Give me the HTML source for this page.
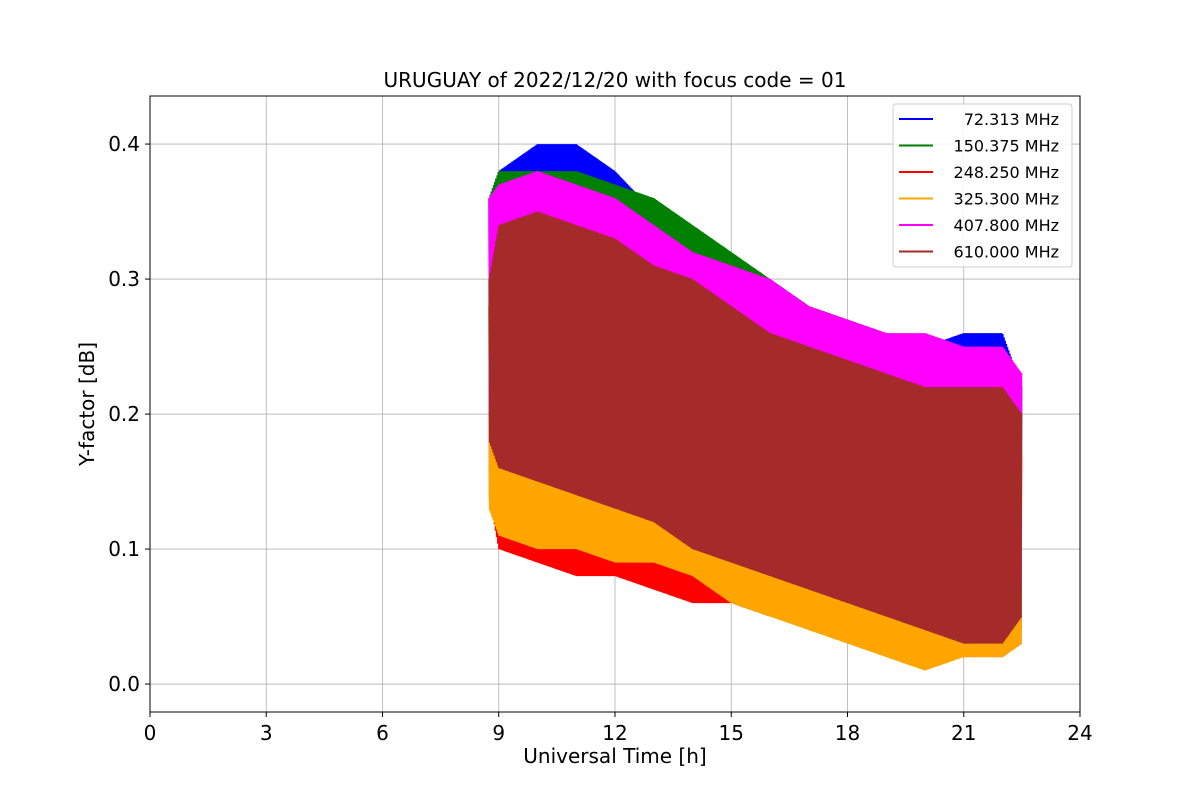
<!DOCTYPE html>
<html><head><meta charset="utf-8"><style>
body{margin:0;background:#fff;font-family:"Liberation Sans","DejaVu Sans",sans-serif}
svg text{font-family:"DejaVu Sans","Liberation Sans",sans-serif}
</style></head><body>
<svg id="c" width="1200" height="800" xmlns="http://www.w3.org/2000/svg"></svg>
<script>
const times=[8.75,9,10,11,12,13,14,15,16,17,18,19,20,21,22,22.5];
const seriesNames=["72.313 MHz","150.375 MHz","248.250 MHz","325.300 MHz","407.800 MHz","610.000 MHz"];
const seriesColors=["blue","green","red","orange","magenta","#a52a2a"];
const hiBlue=[0.36,0.38,0.40,0.40,0.38,0.35,0.33,0.31,0.30,0.28,0.26,0.25,0.25,0.26,0.26,0.22];
const loBlue=[0.18,0.16,0.15,0.14,0.13,0.12,0.10,0.09,0.08,0.07,0.06,0.05,0.04,0.03,0.03,0.05];
const hiGreen=[0.36,0.38,0.38,0.38,0.37,0.36,0.34,0.32,0.30,0.28,0.27,0.26,0.25,0.24,0.24,0.22];
const loGreen=[0.18,0.16,0.15,0.14,0.13,0.12,0.10,0.09,0.08,0.07,0.06,0.05,0.04,0.03,0.03,0.05];
const hiRed=[0.28,0.30,0.30,0.29,0.28,0.27,0.26,0.25,0.23,0.22,0.21,0.20,0.19,0.18,0.18,0.17];
const loRed=[0.14,0.10,0.09,0.08,0.08,0.07,0.06,0.06,0.05,0.05,0.04,0.03,0.02,0.02,0.02,0.03];
const hiOrange=[0.28,0.30,0.30,0.29,0.28,0.27,0.26,0.25,0.23,0.22,0.21,0.20,0.19,0.18,0.18,0.17];
const loOrange=[0.13,0.11,0.10,0.10,0.09,0.09,0.08,0.06,0.05,0.04,0.03,0.02,0.01,0.02,0.02,0.03];
const hiMagenta=[0.36,0.37,0.38,0.37,0.36,0.34,0.32,0.31,0.30,0.28,0.27,0.26,0.26,0.25,0.25,0.23];
const loMagenta=[0.20,0.18,0.17,0.16,0.15,0.14,0.12,0.11,0.10,0.09,0.08,0.07,0.06,0.05,0.05,0.07];
const hiBrown=[0.30,0.34,0.35,0.34,0.33,0.31,0.30,0.28,0.26,0.25,0.24,0.23,0.22,0.22,0.22,0.20];
const loBrown=[0.18,0.16,0.15,0.14,0.13,0.12,0.10,0.09,0.08,0.07,0.06,0.05,0.04,0.03,0.03,0.05];
const xTicks=[0,3,6,9,12,15,18,21,24];
const yTicks=[0.0,0.1,0.2,0.3,0.4];
const his=[hiBlue,hiGreen,hiRed,hiOrange,hiMagenta,hiBrown];
const los=[loBlue,loGreen,loRed,loOrange,loMagenta,loBrown];

const L=150,R=1080,T=96,B=712;
const X0=0,X1=24,Y0=-0.0207,Y1=0.4356;
const sx=v=>L+(v-X0)/(X1-X0)*(R-L);
const sy=v=>B-(v-Y0)/(Y1-Y0)*(B-T);
const NS="http://www.w3.org/2000/svg";
const svg=document.getElementById('c');
function mk(t,a,p){const e=document.createElementNS(NS,t);for(const k in a)e.setAttribute(k,a[k]);(p||svg).appendChild(e);return e;}
function interp(arr,t){for(let i=0;i<times.length-1;i++){if(t<=times[i+1]){const f=(t-times[i])/(times[i+1]-times[i]);return arr[i]+f*(arr[i+1]-arr[i]);}}return arr[arr.length-1];}

const grid=mk('g',{});


xTicks.forEach(v=>mk('line',{x1:sx(v),x2:sx(v),y1:T,y2:B,stroke:'#b0b0b0','stroke-width':0.8},grid));
yTicks.forEach(v=>mk('line',{x1:L,x2:R,y1:sy(v),y2:sy(v),stroke:'#b0b0b0','stroke-width':0.8},grid));

const plot=mk('g',{});


his.forEach((hi,s)=>{
  const lo=los[s];let pts=[];let k=0;
  for(let t=times[0];t<=times[times.length-1]+1e-9;t+=0.015){
    const v=(k%2===0)?interp(hi,t):interp(lo,t);k++;
    pts.push(sx(t).toFixed(1)+','+sy(v).toFixed(1));
  }
  const pl=mk('polyline',{points:pts.join(' '),fill:'none',stroke:seriesColors[s],'stroke-width':1.5},plot);
  
  
});

const fr=mk('rect',{x:L,y:T,width:R-L,height:B-T,fill:'none',stroke:'#000','stroke-width':1});



const xa=mk('g',{});


xTicks.forEach(v=>{mk('line',{x1:sx(v),x2:sx(v),y1:B,y2:B+5,stroke:'#000'},xa);
 const t=mk('text',{x:sx(v),y:B+28,'font-size':20,'text-anchor':'middle'},xa);t.textContent=v;});
const ya=mk('g',{});


yTicks.forEach(v=>{mk('line',{x1:L-5,x2:L,y1:sy(v),y2:sy(v),stroke:'#000'},ya);
 const t=mk('text',{x:L-10,y:sy(v)+7,'font-size':20,'text-anchor':'end'},ya);t.textContent=v.toFixed(1);});

const xt=mk('text',{x:(L+R)/2,y:763,'font-size':20,'text-anchor':'middle'});xt.textContent='Universal Time [h]';


const yt=mk('text',{x:94,y:(T+B)/2,'font-size':20,'text-anchor':'middle',transform:`rotate(-90 94 ${(T+B)/2})`});yt.textContent='Y-factor [dB]';


const ti=mk('text',{x:(L+R)/2,y:87,'font-size':20,'text-anchor':'middle'});ti.textContent='URUGUAY of 2022/12/20 with focus code = 01';



const lg=mk('g',{});


mk('rect',{x:893,y:104,width:179,height:163,rx:3,fill:'#fff','fill-opacity':0.85,stroke:'#ccc'},lg);
seriesNames.forEach((n,i)=>{
  const y=119+i*26.5;
  const e=mk('g',{},lg);
  
  
  mk('line',{x1:899,x2:933,y1:y,y2:y,stroke:seriesColors[i],'stroke-width':2},e);
  const t=mk('text',{x:1059,y:y+6,'font-size':16,'text-anchor':'end'},e);t.textContent=n;
});
</script>
</body></html>
